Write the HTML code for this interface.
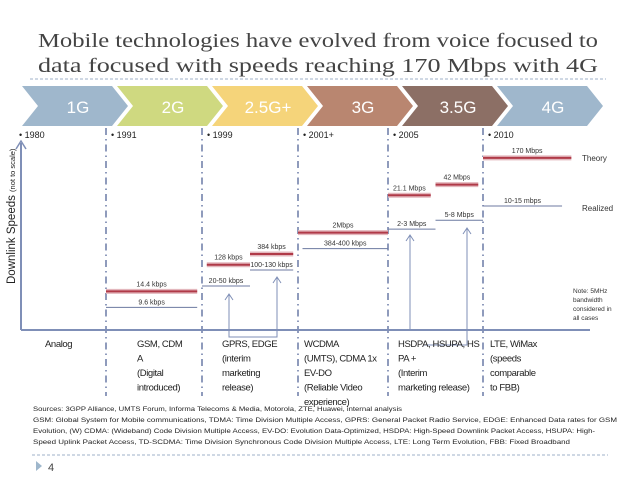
<!DOCTYPE html>
<html><head><meta charset="utf-8"><style>
body{margin:0;width:638px;height:479px;background:#fff;overflow:hidden;font-family:"Liberation Sans",sans-serif}
svg text{font-family:"Liberation Sans",sans-serif}
</style></head><body>
<svg id="c" width="638" height="479" viewBox="0 0 638 479" xmlns="http://www.w3.org/2000/svg">
<text x="38" y="47" font-size="20" fill="#444" textLength="560" lengthAdjust="spacingAndGlyphs" style="font-family:'Liberation Serif',serif">Mobile technologies have evolved from voice focused to</text>
<text x="38" y="72" font-size="20" fill="#444" textLength="560" lengthAdjust="spacingAndGlyphs" style="font-family:'Liberation Serif',serif">data focused with speeds reaching 170 Mbps with 4G</text>
<line x1="30" y1="79" x2="606" y2="79" stroke="#9fb0c8" stroke-dasharray="3,2"/>
<g id="gen"></g>
<g id="grid"></g>
<line x1="21" y1="330" x2="590" y2="330" stroke="#7f8fb7" stroke-width="2"/>
<line x1="21" y1="330" x2="21" y2="143" stroke="#7f8fb7" stroke-width="2"/>
<path d="M16,149 L21,141 L26,149" fill="none" stroke="#7f8fb7" stroke-width="1.5"/>
<text transform="translate(15,284) rotate(-90)" font-size="11.5" fill="#222">Downlink Speeds <tspan font-size="7.5">(not to scale)</tspan></text>
<g id="marks"></g>
<g stroke="#7f8fb7" fill="none" stroke-width="1">
<path d="M229,295 V337 H277 V278"/><path d="M225,300 L229,294 L233,300"/><path d="M273,283 L277,277 L281,283"/>
<path d="M410,236 V330"/><path d="M406,241 L410,235 L414,241"/>
<path d="M467,229 V345 H423"/><path d="M463,234 L467,228 L471,234"/>
</g>
<text x="582" y="161" font-size="8" fill="#333">Theory</text>
<text x="582" y="211" font-size="8" fill="#333">Realized</text>
<text font-size="6.5" fill="#333"><tspan x="573" y="293">Note: 5MHz</tspan><tspan x="573" y="302">bandwidth</tspan><tspan x="573" y="311">considered in</tspan><tspan x="573" y="320">all cases</tspan></text>
<g id="tech" font-size="9.5" fill="#222" letter-spacing="-0.4"></g>
<g font-size="6.6" fill="#222">
<text x="33" y="411" textLength="369" lengthAdjust="spacingAndGlyphs">Sources: 3GPP Alliance, UMTS Forum, Informa Telecoms &amp; Media, Motorola, ZTE, Huawei, internal analysis</text>
<text x="33" y="422" textLength="584" lengthAdjust="spacingAndGlyphs">GSM: Global System for Mobile communications, TDMA: Time Division Multiple Access, GPRS: General Packet Radio Service, EDGE: Enhanced Data rates for GSM</text>
<text x="33" y="433" textLength="562" lengthAdjust="spacingAndGlyphs">Evolution, (W) CDMA: (Wideband) Code Division Multiple Access, EV-DO: Evolution Data-Optimized, HSDPA: High-Speed Downlink Packet Access, HSUPA: High-</text>
<text x="33" y="444" textLength="537" lengthAdjust="spacingAndGlyphs">Speed Uplink Packet Access, TD-SCDMA: Time Division Synchronous Code Division Multiple Access, LTE: Long Term Evolution, FBB: Fixed Broadband</text>
</g>
<line x1="32" y1="455" x2="608" y2="455" stroke="#9fb0c8" stroke-dasharray="3,2"/>
<path d="M36,461 L42,466 L36,471 Z" fill="#9fb7cc"/>
<text x="48" y="471" font-size="11" fill="#444">4</text>
</svg>
<script>
const gens=["1G","2G","2.5G+","3G","3.5G","4G"];
const genColors=["#9fb7cc","#cfd980","#f5d47a","#b98670","#8c6f65","#9fb7cc"];
const years=["1980","1991","1999","2001+","2005","2010"];
const periodEdges=[21,106,202,298,388,483,590];
const techLines=[["Analog"],["GSM, CDM","A","(Digital","introduced)"],["GPRS, EDGE","(interim","marketing","release)"],["WCDMA","(UMTS), CDMA 1x","EV-DO","(Reliable Video","experience)"],["HSDPA, HSUPA, HS","PA +","(Interim","marketing release)"],["LTE, WiMax","(speeds","comparable","to FBB)"]];
// speed marks: label, series (theory/realized), start and end in period units, level (not to scale, 0-100)
const markLabels=["14.4 kbps","128 kbps","384 kbps","2Mbps","21.1 Mbps","42 Mbps","170 Mbps","9.6 kbps","20-50 kbps","100-130 kbps","384-400 kbps","2-3 Mbps","5-8 Mbps","10-15 mbps"];
const markSeries=["theory","theory","theory","theory","theory","theory","theory","realized","realized","realized","realized","realized","realized","realized"];
const markStart=[1,2.05,2.5,3,4,4.5,5,1,2,2.5,3.05,4,4.5,5];
const markEnd=[1.95,2.5,2.95,4,4.45,4.95,5.95,1.95,2.5,2.95,4,4.5,5,5.85];
const markLevel=[20,35,41,53,74,80,95,11,23,32,44,55,60,68];
const NS="http://www.w3.org/2000/svg";
function xp(p){const i=Math.min(Math.floor(p),5);return periodEdges[i]+(p-i)*(i===5?93:periodEdges[i+1]-periodEdges[i]);}
function yp(v){return 327-v*1.78;}
function mk(t,a,parent){const e=document.createElementNS(NS,t);for(const k in a)e.setAttribute(k,a[k]);parent.appendChild(e);return e;}
const gG=document.getElementById('gen');
gens.forEach((g,i)=>{const x=22+95*i;
 const p=mk('polygon',{points:`${x},86 ${x+90},86 ${x+106},106 ${x+90},126 ${x},126 ${x+16},106`,fill:genColors[i]},gG);
 
 
 const t=mk('text',{x:x+56,y:113,'font-size':17,fill:'#fff','text-anchor':'middle'},gG);t.textContent=g;
 
 
});
const gr=document.getElementById('grid');
periodEdges.slice(1,6).forEach(x=>{const l=mk('line',{x1:x,y1:128,x2:x,y2:396,stroke:'#6a7aa6','stroke-width':1.5,'stroke-dasharray':'7,4,1.5,4'},gr);
 
 });
years.forEach((y,i)=>{const t=mk('text',{x:periodEdges[i]+(i?5:-2),y:138,'font-size':9,fill:'#222'},gr);t.textContent='\u2022 '+y;
 
 });
const mG=document.getElementById('marks');
markLabels.forEach((lab,i)=>{const x1=xp(markStart[i]),x2=xp(markEnd[i]),y=yp(markLevel[i]);const th=markSeries[i]==='theory';
 if(th){mk('line',{x1,y1:y,x2,y2:y,stroke:'#e3b7bd','stroke-width':5},mG);}
 const l=mk('line',{x1,y1:y,x2,y2:y,stroke:th?'#b03a48':'#6c7aa0','stroke-width':th?2:1},mG);
 
 
 const t=mk('text',{x:(x1+x2)/2,y:y-(th?5:3),'font-size':7,fill:'#333','text-anchor':'middle'},mG);t.textContent=lab;
 
 
});
const tG=document.getElementById('tech');
const techX=[45,137,222,304,398,490];
techLines.forEach((ls,i)=>{const t=mk('text',{x:techX[i],y:347},tG);
 
 
 ls.forEach((s,j)=>{const sp=mk('tspan',{x:techX[i],y:347+j*14.5},t);sp.textContent=s;});});
</script>
</body></html>
